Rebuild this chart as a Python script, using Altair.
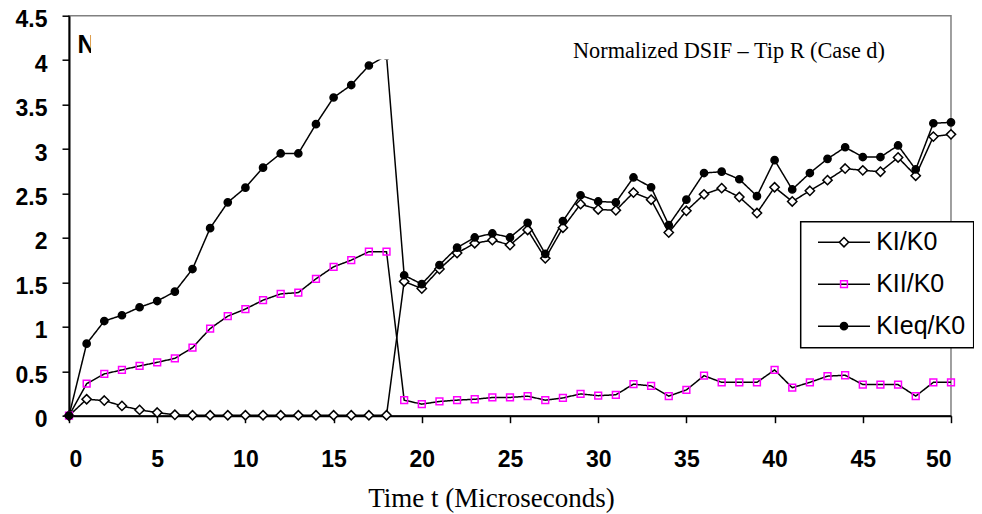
import altair as alt
import pandas as pd

# ---- data ----
t = list(range(51))
series_names = ["KI/K0", "KII/K0", "KIeq/K0"]

ki = [0, 0.185, 0.17, 0.11, 0.065, 0.035,
      0.01, 0.005, 0.005, 0.005, 0.005, 0.005, 0.005, 0.005, 0.005, 0.005, 0.005, 0.005, 0.005,
      1.51, 1.43, 1.65, 1.83, 1.94, 1.975, 1.92, 2.09, 1.77, 2.115, 2.38, 2.32, 2.31, 2.51, 2.43,
      2.06, 2.305, 2.49, 2.56, 2.46, 2.28, 2.57, 2.41, 2.53, 2.65, 2.78, 2.76, 2.745, 2.905, 2.70,
      3.14, 3.165]

kii = [0, 0.36, 0.47, 0.515, 0.56, 0.60, 0.645, 0.765, 0.98, 1.12, 1.20, 1.30, 1.37, 1.385,
       1.54, 1.675, 1.75, 1.845, 1.845,
       0.175, 0.13, 0.16, 0.175, 0.185, 0.205, 0.205, 0.22, 0.175, 0.20, 0.245, 0.225, 0.235,
       0.355, 0.335, 0.22, 0.29, 0.45, 0.375, 0.375, 0.375, 0.515, 0.315, 0.375, 0.445, 0.455,
       0.35, 0.35, 0.35, 0.22, 0.375, 0.375]

kieq = [0, 0.81, 1.065, 1.13, 1.22, 1.29, 1.395, 1.65, 2.11, 2.40, 2.565, 2.79, 2.95, 2.95,
        3.28, 3.58, 3.72, 3.94, 4.05,
        1.58, 1.48, 1.695, 1.89, 2.005, 2.05, 2.005, 2.17, 1.82, 2.19, 2.48, 2.41, 2.40, 2.68,
        2.57, 2.145, 2.43, 2.73, 2.745, 2.66, 2.47, 2.875, 2.545, 2.73, 2.89, 3.02, 2.91, 2.91,
        3.04, 2.77, 3.29, 3.30]

x_ticks = list(range(0, 51, 5))
y_ticks = [0, 0.5, 1, 1.5, 2, 2.5, 3, 3.5, 4, 4.5]

chart_title = "Normalized DSIF \u2013 Tip R (Case d)"
hidden_title_letter = "N"
x_title = "Time t (Microseconds)"

rows = []
for name, vals in zip(series_names, [ki, kii, kieq]):
    for tt, v in zip(t, vals):
        rows.append({"t": tt, "v": v, "series": name, "series_l": name})
df = pd.DataFrame(rows)

# ---- encodings ----
x_enc = alt.X("t:Q", scale=alt.Scale(domain=[0, 50], nice=False, zero=False),
              axis=alt.Axis(values=x_ticks, title=x_title, labelPadding=25.6,
                            titleFont="Liberation Serif", titleFontWeight="normal",
                            titleFontSize=27, titleX=422, titleY=91, titleAlign="center",
                            titleBaseline="alphabetic", titleColor="black"))
y_enc = alt.Y("v:Q", scale=alt.Scale(domain=[0, 4.5], nice=False),
              axis=alt.Axis(values=y_ticks, title=None, format="~g", labelPadding=15,
                            labelOffset=4))

diamond = "M0,-0.93L0.93,0L0,0.93L-0.93,0Z"
square = "M-0.68,-0.68L0.68,-0.68L0.68,0.68L-0.68,0.68Z"
circle = "M0.72,0A0.72,0.72,0,1,1,-0.72,0A0.72,0.72,0,1,1,0.72,0Z"
legend_line = "M-5.2,0L5.2,0"

leg_lines = alt.Legend(title=None, orient="none", legendX=731.7, legendY=206, padding=8,
                       symbolOffset=22.8, symbolType=legend_line, symbolSize=100,
                       symbolStrokeColor="black", symbolStrokeWidth=1.5,
                       labelFont="Liberation Sans", labelFontSize=25, labelColor="black",
                       labelOffset=19.7, rowPadding=16, strokeColor="black", fillColor="white",
                       zindex=1)

leg_marks = alt.Legend(title=None, orient="none", legendX=762.5, legendY=214, padding=0,
                       symbolSize=100, symbolStrokeWidth=1.5, labelFontSize=25,
                       labelExpr="' '", rowPadding=16, zindex=2)

lines = alt.Chart(df).mark_line(color="black", strokeWidth=1.5).encode(
    x=x_enc, y=y_enc,
    strokeDash=alt.StrokeDash("series_l:N",
                              scale=alt.Scale(range=[[1, 0], [1, 0], [1, 0]]),
                              legend=leg_lines),
)

points = alt.Chart(df).mark_point(opacity=1, strokeWidth=1.5, size=100).encode(
    x=x_enc, y=y_enc,
    shape=alt.Shape("series:N", scale=alt.Scale(range=[diamond, square, circle]), legend=leg_marks),
    stroke=alt.Stroke("series:N", scale=alt.Scale(range=["black", "#ff00ff", "black"]), legend=leg_marks),
    fill=alt.Fill("series:N", scale=alt.Scale(range=["white", "transparent", "black"]), legend=leg_marks),
)

letter = alt.Chart(pd.DataFrame({"s": [hidden_title_letter]})).mark_text(
    font="Liberation Sans", fontWeight="bold", fontSize=25, align="left",
    baseline="alphabetic", color="black").encode(
    text="s:N", x=alt.value(8.4), y=alt.value(37.6))

cover = alt.Chart(pd.DataFrame({"s": [1]})).mark_rect(color="white").encode(
    x=alt.value(22), x2=alt.value(461), y=alt.value(1.3), y2=alt.value(43.8))

title_txt = alt.Chart(pd.DataFrame({"s": [chart_title]})).mark_text(
    font="Liberation Serif", fontSize=22.3, align="left", baseline="alphabetic",
    color="black").encode(text="s:N", x=alt.value(504), y=alt.value(42.6))

chart = alt.layer(lines, points, letter, cover, title_txt).properties(
    width=882, height=400,
    autosize=alt.AutoSizeParams(type="none"),
    padding={"left": 61, "top": 7.7, "right": 23, "bottom": 100},
).configure_view(stroke="#808080", strokeWidth=1.5).configure_axis(
    domainColor="black", domainWidth=2, tickColor="black", tickWidth=1.5, tickSize=7,
    grid=False, labelFont="Liberation Sans", labelFontWeight="bold", labelFontSize=23,
    labelColor="black",
).configure_legend(strokeWidth=1.5)

chart.save("out.html", embed_options={"renderer": "svg", "actions": False})
